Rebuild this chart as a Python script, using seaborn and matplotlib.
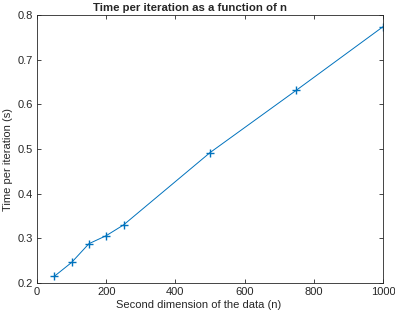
import matplotlib
matplotlib.use("Agg")
import matplotlib.pyplot as plt
import seaborn as sns
import pandas as pd

n_values = [50, 100, 150, 200, 250, 500, 750, 1000]
time_values = [0.215, 0.246, 0.288, 0.306, 0.330, 0.492, 0.632, 0.774]
x_ticks = [0, 200, 400, 600, 800, 1000]
y_ticks = [0.2, 0.3, 0.4, 0.5, 0.6, 0.7, 0.8]

sns.set_theme(style="ticks")
plt.rcParams['font.family'] = ['Liberation Sans', 'DejaVu Sans']

df = pd.DataFrame({"n": n_values, "t": time_values})

fig = plt.figure(figsize=(3.95, 3.15), dpi=100)
ax = fig.add_axes([0.0937, 0.1016, 0.9696 - 0.0937, 0.952 - 0.1016])

sns.lineplot(data=df, x="n", y="t", ax=ax, color="#0072BD", linewidth=0.7,
             marker="+", markersize=5.5, markeredgewidth=1.0, markeredgecolor="#0072BD")

ax.set_xlim(0, 1000)
ax.set_ylim(0.2, 0.8)
ax.set_xticks(x_ticks)
ax.set_yticks(y_ticks)
ax.set_xticklabels([str(v) for v in x_ticks])
ax.set_yticklabels([f"{v:.1f}" for v in y_ticks])
ax.tick_params(direction="in", length=3, width=0.6, colors="#262626", labelsize=8,
               top=True, right=True, pad=3)
for s in ax.spines.values():
    s.set_visible(True)
    s.set_linewidth(0.6)
    s.set_color("#262626")

ax.set_xlabel("Second dimension of the data (n)", fontsize=8, color="#262626", labelpad=2)
ax.set_ylabel("Time per iteration (s)", fontsize=8, color="#262626", labelpad=3)
ax.xaxis.label.set_x(0.468)
ax.yaxis.label.set_y(0.461)
ax.set_title("Time per iteration as a function of n", fontsize=8.2, fontweight="bold",
             pad=3, x=0.442)

fig.savefig("out.png", dpi=100)
